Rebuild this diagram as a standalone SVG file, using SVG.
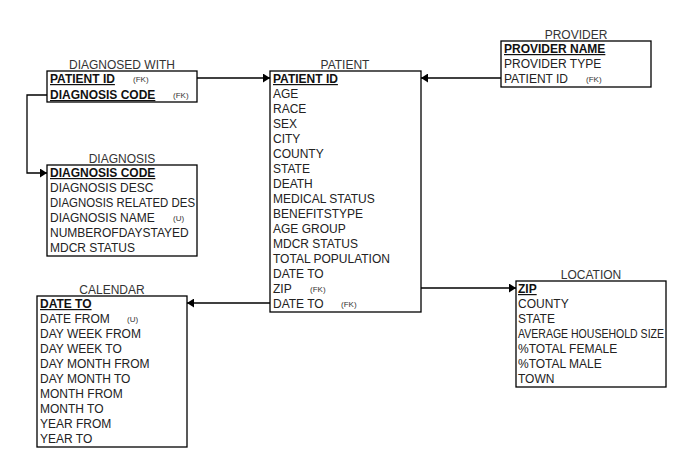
<svg xmlns="http://www.w3.org/2000/svg" width="692" height="473" viewBox="0 0 692 473">
<defs>
<marker id="arr" markerWidth="7" markerHeight="9" refX="7" refY="4.5" orient="auto" markerUnits="userSpaceOnUse">
<path d="M0,0 L7,4.5 L0,9 Z" fill="#000"/>
</marker>
<style>
rect.box{fill:#fff;stroke:#000;stroke-width:1.3}
text{font-family:"Liberation Sans",Arial,sans-serif;font-size:12px;fill:#222}
text.title{text-anchor:middle;fill:#333}
text.pk{font-weight:bold;text-decoration:underline;fill:#111}
text.tag{font-size:8px;fill:#333}
.conn path{fill:none;stroke:#000;stroke-width:1.3}
</style>
</defs>
<rect width="692" height="473" fill="#fff"/>
<g class="conn">
<path d="M197,78 H270" marker-end="url(#arr)"/>
<path d="M501,78 H421" marker-end="url(#arr)"/>
<path d="M47,95 H27 V173 H47" marker-end="url(#arr)"/>
<path d="M270,303 H187" marker-end="url(#arr)"/>
<path d="M421,288 H516" marker-end="url(#arr)"/>
</g>
<g id="diagnosed-with">
<text class="title" x="122" y="69">DIAGNOSED WITH</text>
<rect class="box" x="47" y="71" width="150" height="31"/>
<text class="pk" x="50" y="83">PATIENT ID</text><text class="tag" x="133" y="82">(FK)</text>
<text class="pk" x="50" y="99">DIAGNOSIS CODE</text><text class="tag" x="173" y="98">(FK)</text>
</g>
<g id="patient">
<text class="title" x="345" y="69">PATIENT</text>
<rect class="box" x="270" y="71" width="151" height="241"/>
<text class="pk" x="273" y="83">PATIENT ID</text>
<text x="273" y="98">AGE</text>
<text x="273" y="113">RACE</text>
<text x="273" y="128">SEX</text>
<text x="273" y="143">CITY</text>
<text x="273" y="158">COUNTY</text>
<text x="273" y="173">STATE</text>
<text x="273" y="188">DEATH</text>
<text x="273" y="203">MEDICAL STATUS</text>
<text x="273" y="218">BENEFITSTYPE</text>
<text x="273" y="233">AGE GROUP</text>
<text x="273" y="248">MDCR STATUS</text>
<text x="273" y="263">TOTAL POPULATION</text>
<text x="273" y="278">DATE TO</text>
<text x="273" y="293">ZIP</text><text class="tag" x="310" y="292">(FK)</text>
<text x="273" y="308">DATE TO</text><text class="tag" x="341" y="307">(FK)</text>
</g>
<g id="provider">
<text class="title" x="576" y="39">PROVIDER</text>
<rect class="box" x="501" y="41" width="150" height="46"/>
<text class="pk" x="504" y="53">PROVIDER NAME</text>
<text x="504" y="68">PROVIDER TYPE</text>
<text x="504" y="83">PATIENT ID</text><text class="tag" x="586" y="82">(FK)</text>
</g>
<g id="diagnosis">
<text class="title" x="122" y="163">DIAGNOSIS</text>
<rect class="box" x="47" y="165" width="150" height="91"/>
<text class="pk" x="50" y="177">DIAGNOSIS CODE</text>
<text x="50" y="192">DIAGNOSIS DESC</text>
<text x="50" y="207" textLength="145" lengthAdjust="spacingAndGlyphs">DIAGNOSIS RELATED DES</text>
<text x="50" y="222">DIAGNOSIS NAME</text><text class="tag" x="173" y="221">(U)</text>
<text x="50" y="237">NUMBEROFDAYSTAYED</text>
<text x="50" y="252">MDCR STATUS</text>
</g>
<g id="calendar">
<text class="title" x="112" y="294">CALENDAR</text>
<rect class="box" x="37" y="296" width="150" height="151"/>
<text class="pk" x="40" y="308">DATE TO</text>
<text x="40" y="323">DATE FROM</text><text class="tag" x="127" y="322">(U)</text>
<text x="40" y="338">DAY WEEK FROM</text>
<text x="40" y="353">DAY WEEK TO</text>
<text x="40" y="368">DAY MONTH FROM</text>
<text x="40" y="383">DAY MONTH TO</text>
<text x="40" y="398">MONTH FROM</text>
<text x="40" y="413">MONTH TO</text>
<text x="40" y="428">YEAR FROM</text>
<text x="40" y="443">YEAR TO</text>
</g>
<g id="location">
<text class="title" x="591" y="279">LOCATION</text>
<rect class="box" x="516" y="281" width="150" height="106"/>
<text class="pk" x="518" y="293">ZIP</text>
<text x="518" y="308">COUNTY</text>
<text x="518" y="323">STATE</text>
<text x="518" y="338" textLength="146" lengthAdjust="spacingAndGlyphs">AVERAGE HOUSEHOLD SIZE</text>
<text x="518" y="353">%TOTAL FEMALE</text>
<text x="518" y="368">%TOTAL MALE</text>
<text x="518" y="383">TOWN</text>
</g>
</svg>
